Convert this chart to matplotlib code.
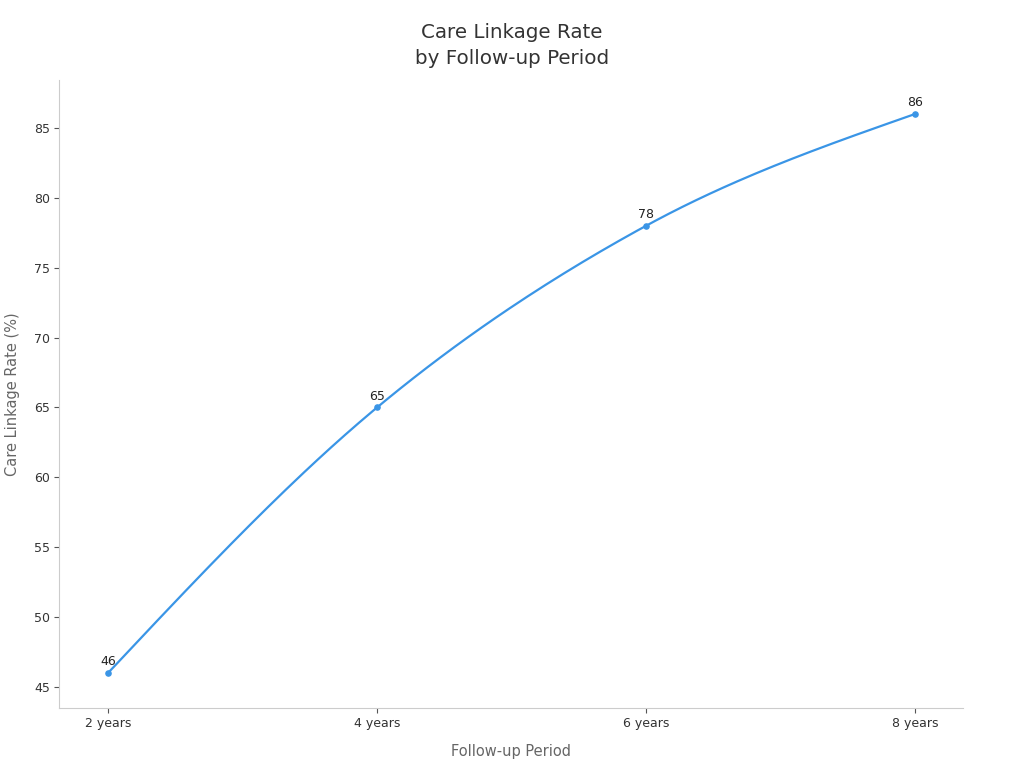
import numpy as np
import matplotlib
matplotlib.use("Agg")
import matplotlib.pyplot as plt

# data
periods = ["2 years", "4 years", "6 years", "8 years"]
linkage_rate = [46, 65, 78, 86]

LINE_COLOR = "#3a95e6"


def monotone_x(x, y, n=60):
    # same slopes as d3.curveMonotoneX, only for drawing the line
    x = np.asarray(x, float)
    y = np.asarray(y, float)
    h = np.diff(x)
    s = np.diff(y) / h
    m = np.zeros_like(y)
    for i in range(1, len(y) - 1):
        p = (s[i - 1] * h[i] + s[i] * h[i - 1]) / (h[i - 1] + h[i])
        m[i] = (np.sign(s[i - 1]) + np.sign(s[i])) * min(abs(s[i - 1]), abs(s[i]), 0.5 * abs(p))
    m[0] = (3 * s[0] - m[1]) / 2
    m[-1] = (3 * s[-1] - m[-2]) / 2
    xs, ys = [], []
    for i in range(len(h)):
        t = np.linspace(0, 1, n)
        h00 = 2 * t**3 - 3 * t**2 + 1
        h10 = t**3 - 2 * t**2 + t
        h01 = -2 * t**3 + 3 * t**2
        h11 = t**3 - t**2
        xs.append(x[i] + t * h[i])
        ys.append(h00 * y[i] + h10 * h[i] * m[i] + h01 * y[i + 1] + h11 * h[i] * m[i + 1])
    return np.concatenate(xs), np.concatenate(ys)


fig = plt.figure(figsize=(10.24, 7.68), dpi=100)
ax = fig.add_axes([59 / 1024, 60 / 768, 904 / 1024, 628 / 768])

x = np.arange(len(periods))
cx, cy = monotone_x(x, linkage_rate)
ax.plot(cx, cy, color=LINE_COLOR, linewidth=1.6)
ax.scatter(x, linkage_rate, s=14, color=LINE_COLOR, zorder=3)

for xi, v in zip(x, linkage_rate):
    ax.annotate(str(v), (xi, v), xytext=(0, 3.5), textcoords="offset points",
                ha="center", va="bottom", fontsize=9, color="#222222")

ax.set_xlim(-0.182, 3.178)
ax.set_ylim(43.5, 88.43)
ax.set_xticks(x)
ax.set_xticklabels(periods)
ax.set_yticks([45, 50, 55, 60, 65, 70, 75, 80, 85])

for side in ["top", "right"]:
    ax.spines[side].set_visible(False)
for side in ["left", "bottom"]:
    ax.spines[side].set_color("#cccccc")
    ax.spines[side].set_linewidth(0.8)

ax.tick_params(axis="both", labelsize=9, labelcolor="#333333", color="#555555",
               length=3.5, width=0.8, pad=3)

ax.set_xlabel("Follow-up Period", fontsize=10.5, color="#666666", labelpad=10)
ax.set_ylabel("Care Linkage Rate (%)", fontsize=10.5, color="#666666", labelpad=10)

fig.text(0.5, 1 - 33 / 768, "Care Linkage Rate", ha="center", va="center",
         fontsize=14.3, color="#333333")
fig.text(0.5, 1 - 59 / 768, "by Follow-up Period", ha="center", va="center",
         fontsize=14.3, color="#333333")

fig.savefig("out.png", dpi=100)
